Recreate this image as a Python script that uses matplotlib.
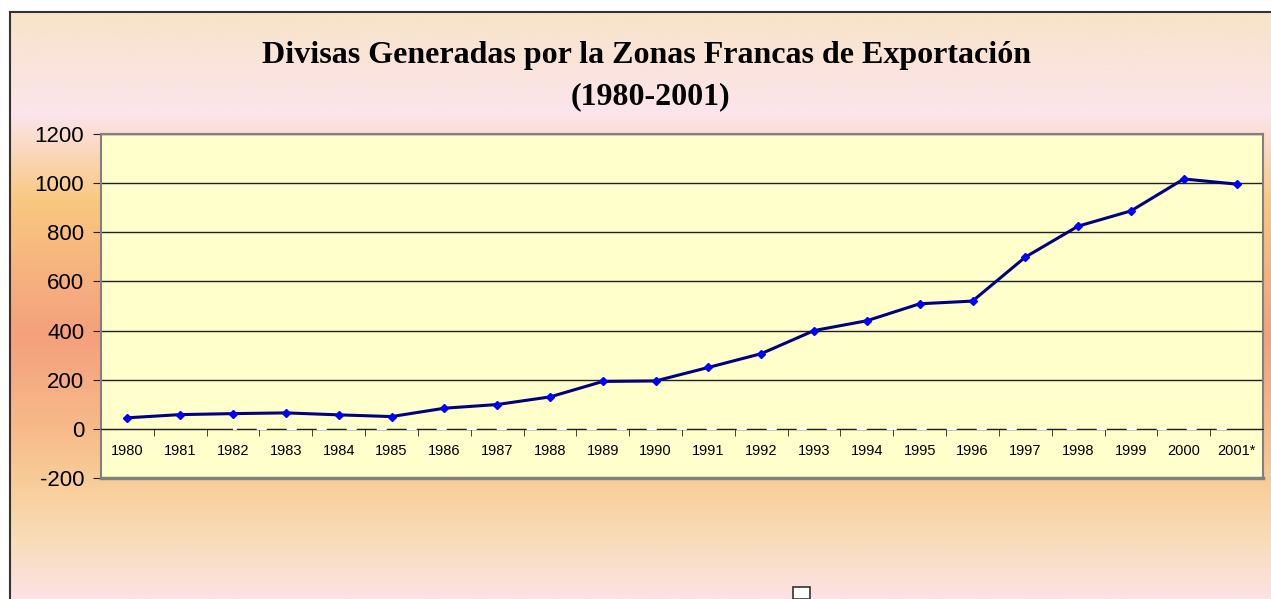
import numpy as np
import matplotlib.pyplot as plt
from matplotlib.colors import LinearSegmentedColormap

plt.rcParams["axes.unicode_minus"] = False

years = ["1980", "1981", "1982", "1983", "1984", "1985", "1986", "1987", "1988",
         "1989", "1990", "1991", "1992", "1993", "1994", "1995", "1996", "1997",
         "1998", "1999", "2000", "2001*"]
divisas = [45, 58, 62, 65, 57, 50, 84, 99, 130, 193, 195, 250, 306, 400, 440,
           509, 520, 699, 825, 887, 1017, 996]
# faint white dashed series along the zero line
otra = [0] * 20
otra_years = years[2:]

W, H = 1271, 599
fig = plt.figure(figsize=(W / 100, H / 100), dpi=100)
fig.patch.set_facecolor("white")

# background gradient of the chart area
bg = fig.add_axes([10 / W, 0, 1 - 10 / W, 1 - 12 / H], zorder=-5)
stops = [(0.0, "#f8e4c8"), (0.17, "#fce4ec"), (0.32, "#f9c880"),
         (0.55, "#f4a07c"), (0.70, "#f7b888"), (0.80, "#f8cc98"),
         (0.90, "#f9dcb8"), (1.0, "#fce2e4")]
cmap = LinearSegmentedColormap.from_list("bg", stops)
grad = np.linspace(0, 1, 300).reshape(-1, 1)
bg.imshow(grad, aspect="auto", cmap=cmap, extent=[0, 1, 0, 1])
bg.set_xticks([])
bg.set_yticks([])
for side in ["right", "bottom"]:
    bg.spines[side].set_visible(False)
for side in ["left", "top"]:
    bg.spines[side].set_color("#333333")
    bg.spines[side].set_linewidth(1.5)

# small white box at the bottom (legend remnant)
fig.patches.append(plt.Rectangle((793 / W, 0), 17 / W, 12 / H, transform=fig.transFigure,
                                 facecolor="white", edgecolor="#333333", lw=1.2))

ax = fig.add_axes([101 / W, 1 - 478 / H, 1162 / W, 344 / H])
ax.set_facecolor("#ffffcc")
x = np.arange(len(years))
ax.plot(x, divisas, color="#000080", lw=2.2, marker="D", ms=4,
        mfc="#0000ff", mec="#0000ff", zorder=4)
xo = np.arange(2, len(years))
ax.plot(xo, otra, color="white", lw=1.5, ls=(3, (4.8, 9.6)), zorder=3)

ax.set_xlim(-0.5, len(years) - 0.5)
ax.set_ylim(-200, 1200)
ax.set_yticks(range(-200, 1201, 200))
ax.yaxis.grid(True, color="#222222", lw=1)
ax.set_axisbelow(True)

ax.spines["bottom"].set_position(("data", 0))
ax.spines["bottom"].set_color("#222222")
for side in ["left", "right", "top"]:
    ax.spines[side].set_color("#808080")
    ax.spines[side].set_linewidth(1.5)
ax.axhline(-200, color="#808080", lw=2.5, clip_on=False)

ax.set_xticks(x)
ax.set_xticklabels(years, fontsize=10.5, family="Liberation Sans")
ax.set_xticks(np.arange(0.5, len(years) - 0.5, 1), minor=True)
ax.tick_params(axis="x", which="major", length=0, pad=11)
ax.tick_params(axis="x", which="minor", length=5, direction="out", color="#222222")
ax.tick_params(axis="y", length=6, direction="out", color="#222222",
               labelsize=16, pad=6)
for lbl in ax.get_yticklabels():
    lbl.set_family("Liberation Sans")

fig.text(646 / W, 1 - 55 / H, "Divisas Generadas por la Zonas Francas de Exportación",
         ha="center", va="center", fontsize=23, fontweight="bold", family="Liberation Serif")
fig.text(650 / W, 1 - 97 / H, "(1980-2001)",
         ha="center", va="center", fontsize=23, fontweight="bold", family="Liberation Serif")

fig.savefig("out.png", dpi=100)
